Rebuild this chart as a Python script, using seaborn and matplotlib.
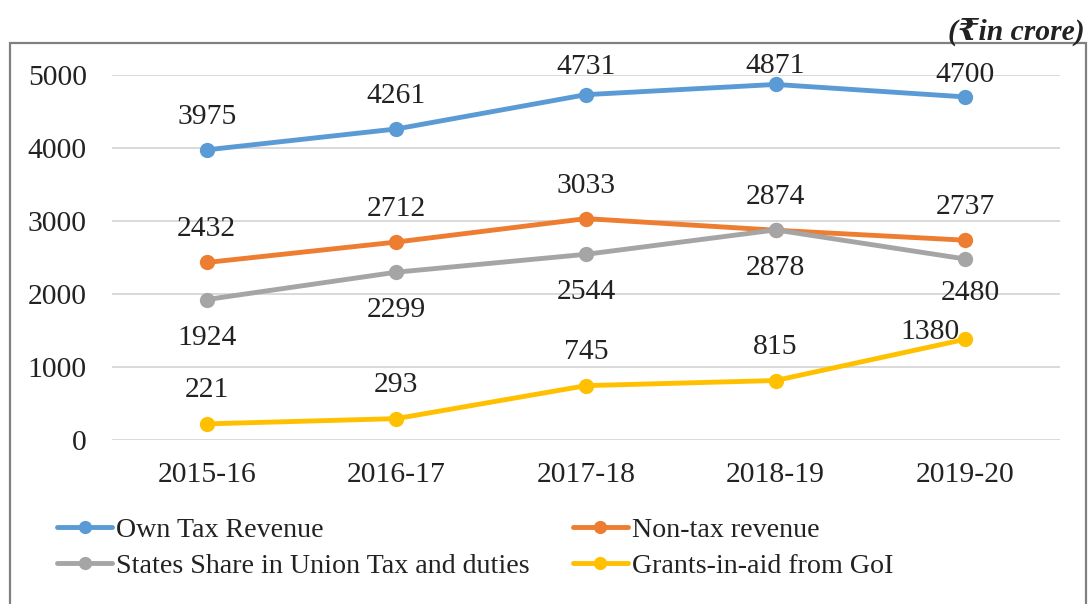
import pandas as pd
import matplotlib.pyplot as plt
import seaborn as sns
from matplotlib.patches import Rectangle

# values (Rs in crore)
years = ["2015-16", "2016-17", "2017-18", "2018-19", "2019-20"]
own_tax = [3975, 4261, 4731, 4871, 4700]
non_tax = [2432, 2712, 3033, 2874, 2737]
states_share = [1924, 2299, 2544, 2878, 2480]
grants = [221, 293, 745, 815, 1380]

series_names = ["Own Tax Revenue", "Non-tax revenue",
                "States Share in Union Tax and duties", "Grants-in-aid from GoI"]
colors = ["#5B9BD5", "#ED7D31", "#A5A5A5", "#FFC000"]

df = pd.DataFrame({
    "year": years * 4,
    "x": list(range(len(years))) * 4,
    "value": own_tax + non_tax + states_share + grants,
    "series": [s for s in series_names for _ in years],
})

sns.set_theme(style="white")
plt.rcParams["font.family"] = ["Liberation Serif", "DejaVu Serif", "DejaVu Sans"]
FS = 21.3
LEG_FS = 20.2

fig = plt.figure(figsize=(10.88, 6.04), dpi=100)
ax = fig.add_axes([0.1029, 0.2715, 0.9743 - 0.1029, 0.8758 - 0.2715])

sns.lineplot(data=df, x="x", y="value", hue="series", hue_order=series_names,
             palette=colors, marker="o", markersize=11, markeredgewidth=0,
             linewidth=3.5, ax=ax, legend=False)

ax.set_xlim(-0.5, len(years) - 0.5)
ax.set_ylim(0, 5000)
ax.set_yticks(range(0, 5001, 1000))
ax.set_xticks(range(len(years)))
ax.set_xticklabels(years)
ax.set_xlabel("")
ax.set_ylabel("")
ax.tick_params(axis="both", length=0, labelsize=FS, colors="#222222")
ax.tick_params(axis="y", pad=18)
ax.tick_params(axis="x", pad=16)
ax.grid(axis="y", color="#D9D9D9", linewidth=1.4)
ax.set_axisbelow(True)
for sp in ax.spines.values():
    sp.set_visible(False)
ax.patch.set_alpha(0)

# data labels (offsets in pixels, a few squeezed like the original)
def label(vals, dy, special=None):
    for i, v in enumerate(vals):
        dx, ddy = 0, dy
        if special and i in special:
            dx, ddy = special[i]
        ax.annotate(str(v), (i, v), xytext=(dx, ddy), textcoords="offset pixels",
                    ha="center", va="center", fontsize=FS, color="#222222",
                    annotation_clip=False)

label(own_tax, 33, special={2: (0, 28), 3: (0, 18), 4: (0, 22)})
label(non_tax, 33)
label(states_share, -38, special={4: (5, -34)})
label(grants, 34, special={4: (-35, 7)})

# legend
handles = [plt.Line2D([], [], color=c, lw=3.5, marker="o", markersize=9.5,
                      markeredgewidth=0) for c in colors]
order = [0, 2, 1, 3]
leg = fig.legend([handles[i] for i in order], [series_names[i] for i in order],
                 ncol=2, loc="upper left", bbox_to_anchor=(0.0524, 0.143),
                 frameon=False, fontsize=LEG_FS, handlelength=1.96, handletextpad=0.15,
                 labelspacing=0.35, columnspacing=1.53, borderaxespad=0, borderpad=0)
for t in leg.get_texts():
    t.set_color("#222222")

# unit note and outer frame
fig.text(0.997, 0.948, "(₹in crore)", ha="right", va="center", fontsize=FS,
         fontweight="bold", fontstyle="italic", color="#222222")
fig.patches.append(Rectangle((10 / 1088, -0.05), 1076 / 1088, 0.05 + (604 - 43) / 604,
                             transform=fig.transFigure, fill=False,
                             edgecolor="#808080", linewidth=1.6))

fig.savefig("out.png", dpi=100)
